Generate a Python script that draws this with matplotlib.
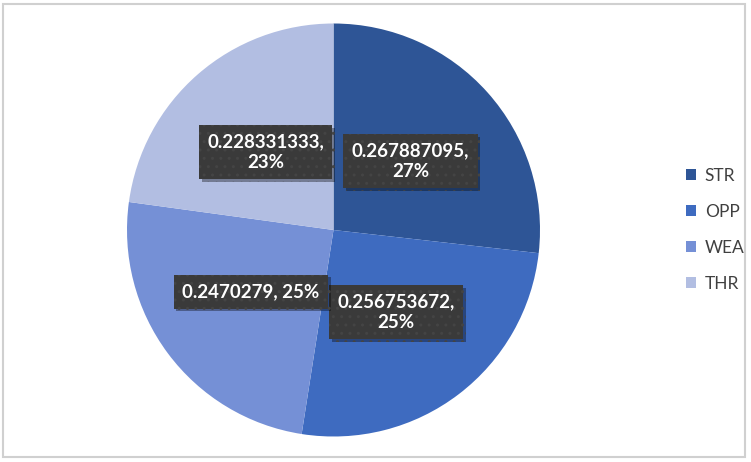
import matplotlib
matplotlib.use("Agg")
import matplotlib.pyplot as plt
import matplotlib.patheffects as pe
from matplotlib.patches import Rectangle
import numpy as np

categories = ["STR", "OPP", "WEA", "THR"]
values = [0.267887095, 0.256753672, 0.2470279, 0.228331333]
value_labels = ["0.267887095,\n27%", "0.256753672,\n25%", "0.2470279, 25%", "0.228331333,\n23%"]
colors = ["#2E5596", "#3E6BC0", "#7590D6", "#B2BEE2"]

W, H = 751, 462
fig = plt.figure(figsize=(W / 100, H / 100), dpi=100)
fig.patch.set_facecolor("white")

# figure border
fig.patches.append(Rectangle((3 / W, 5 / H), 742 / W, 453 / H, transform=fig.transFigure,
                             fill=False, edgecolor="#D0D0D0", linewidth=1.5))

cx, cy, r = 333.5, 230, 206.5
ax = fig.add_axes([(cx - r) / W, (H - cy - r) / H, 2 * r / W, 2 * r / H])
wedges, _ = ax.pie(values, colors=colors, startangle=90, counterclock=False,
                   wedgeprops=dict(linewidth=0))
ax.set_xlim(-1, 1)
ax.set_ylim(-1, 1)
ax.set_aspect("equal")
ax.axis("off")

for w, lab in zip(wedges, value_labels):
    ang = np.deg2rad((w.theta1 + w.theta2) / 2)
    x, y = 0.5 * np.cos(ang), 0.5 * np.sin(ang)
    t = ax.text(x, y, lab, ha="center", va="center", color="white",
                fontsize=13.5, fontweight="bold", family=["Lato", "DejaVu Sans"],
                linespacing=1.25,
                bbox=dict(boxstyle="square,pad=0.45", facecolor="#3A3A3A",
                          edgecolor="#444444", linewidth=0, hatch=".."))
    t.get_bbox_patch().set_path_effects([
        pe.SimplePatchShadow(offset=(2, -2), shadow_rgbFace="#000000", alpha=0.35),
        pe.Normal()])

leg = fig.legend(wedges, categories, loc="center left",
                 bbox_to_anchor=(670 / W, 1 - 230 / H), frameon=False,
                 prop=dict(family=["Lato", "DejaVu Sans"], size=12.5),
                 labelspacing=1.15, handlelength=0.6, handleheight=0.6,
                 handletextpad=0.5, labelcolor="#404040")

fig.savefig("out.png", dpi=100, facecolor="white")
